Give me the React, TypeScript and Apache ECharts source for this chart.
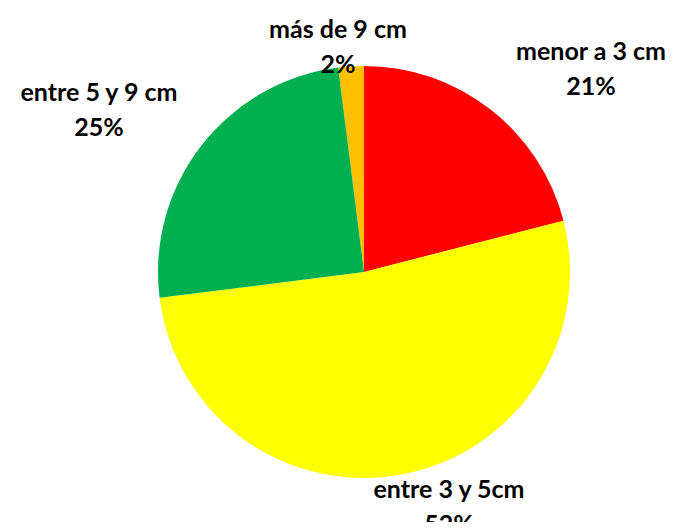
import React, { useEffect, useRef } from "react";
import * as echarts from "echarts";

const categories = ["más de 9 cm", "menor a 3 cm", "entre 3 y 5cm", "entre 5 y 9 cm"];
const values = [2, 21, 52, 25];
const colors = ["#FFC000", "#FF0000", "#FFFF00", "#00B050"];
const labelCenters: [number, number][] = [
  [338, 45],
  [591, 67],
  [449, 505],
  [99, 108],
];

export default function App() {
  const ref = useRef<HTMLDivElement>(null);
  useEffect(() => {
    if (!ref.current) return;
    const chart = echarts.init(ref.current, null, { renderer: "svg" });
    chart.setOption({
      animation: false,
      backgroundColor: "#ffffff",
      series: [
        {
          type: "pie",
          center: [356, 264],
          radius: 206,
          startAngle: 90 + 360 * 0.02,
          clockwise: true,
          percentPrecision: 0,
          avoidLabelOverlap: false,
          data: categories.map((c, i) => ({
            name: c,
            value: values[i],
            itemStyle: { color: colors[i] },
          })),
          label: {
            show: true,
            position: "outside",
            formatter: "{b}\n{d}%",
            fontFamily: "Lato",
            fontWeight: "bold",
            fontSize: 25,
            lineHeight: 35,
            color: "#000000",
            align: "center",
            verticalAlign: "middle",
          },
          labelLine: { show: false },
          labelLayout: (p: any) => ({
            x: labelCenters[p.dataIndex][0] - 8,
            y: labelCenters[p.dataIndex][1] - 8,
            align: "center",
            verticalAlign: "middle",
          }),
        },
      ],
    });
    return () => chart.dispose();
  }, []);
  return <div ref={ref} style={{ width: 659, height: 514 }} />;
}
